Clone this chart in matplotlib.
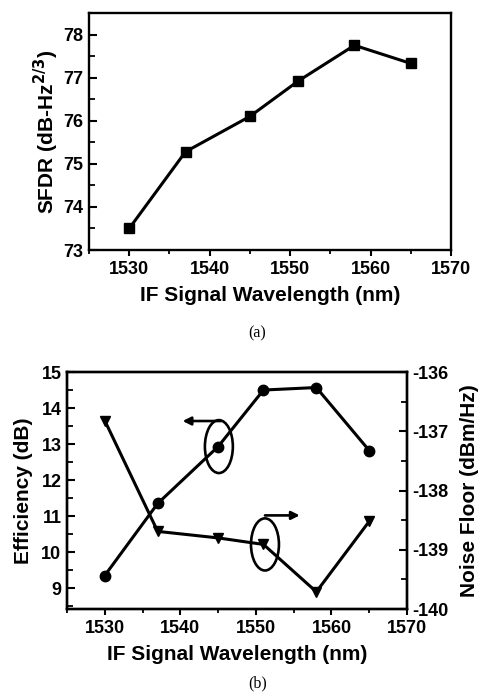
import matplotlib
matplotlib.use("Agg")
import matplotlib.pyplot as plt
from matplotlib.patches import Ellipse
from matplotlib.ticker import MultipleLocator

plt.rcParams['font.family'] = ['Liberation Sans', 'DejaVu Sans']
plt.rcParams['font.weight'] = 'bold'

# Data
wl = [1530, 1537, 1545, 1551, 1558, 1565]
sfdr = [73.5, 75.28, 76.1, 76.92, 77.75, 77.33]
efficiency = [9.35, 11.35, 12.93, 14.5, 14.57, 12.82]
noise_floor = [-136.82, -138.69, -138.8, -138.91, -139.71, -138.52]

xticks = [1530, 1540, 1550, 1560, 1570]

fig = plt.figure(figsize=(4.81, 6.98), dpi=100)

tick_fs = 13
label_fs = 15

def style_axis(ax, right=False):
    for s in ax.spines.values():
        s.set_linewidth(1.7)
    ax.tick_params(axis='x', direction='out', length=4, width=1.5, labelsize=tick_fs, pad=4)
    ax.tick_params(axis='x', which='minor', direction='out', length=3, width=1.3)
    ax.tick_params(axis='y', direction='in', length=6, width=1.5, labelsize=tick_fs, pad=4)
    ax.tick_params(axis='y', which='minor', direction='in', length=4, width=1.3)
    for lab in ax.get_xticklabels() + ax.get_yticklabels():
        lab.set_fontweight('bold')

# Panel (a)
ax1 = fig.add_axes([0.185, 0.6418, 0.7526, 0.3396])
ax1.plot(wl, sfdr, color='black', lw=2.2, marker='s', ms=7, mfc='black', mec='black')
ax1.set_xlim(1525, 1570)
ax1.set_ylim(73, 78.5)
ax1.set_xticks(xticks)
ax1.set_yticks([73, 74, 75, 76, 77, 78])
ax1.xaxis.set_minor_locator(MultipleLocator(5))
ax1.yaxis.set_minor_locator(MultipleLocator(0.5))
style_axis(ax1)
ax1.set_xlabel('IF Signal Wavelength (nm)', fontsize=label_fs, fontweight='bold', labelpad=6)
ax1.set_ylabel(r'SFDR (dB-Hz$^{\mathbf{2/3}}$)', fontsize=label_fs, fontweight='bold', labelpad=2)
fig.text(0.535, 1 - 333 / 698, '(a)', ha='center', va='center', fontsize=11.5,
         family=['Liberation Serif', 'DejaVu Serif'], fontweight='normal')

# Panel (b)
ax2 = fig.add_axes([0.1393, 0.1275, 0.7069, 0.3395])
ax3 = ax2.twinx()
ax2.plot(wl, efficiency, color='black', lw=2.2, marker='o', ms=7.5, mfc='black', mec='black')
ax3.plot(wl, noise_floor, color='black', lw=2.2, marker='v', ms=7.5, mfc='black', mec='black')
ax2.set_xlim(1525, 1570)
ax2.set_ylim(8.42, 15)
ax3.set_ylim(-140, -136)
ax2.set_xticks(xticks)
ax2.set_yticks([9, 10, 11, 12, 13, 14, 15])
ax3.set_yticks([-140, -139, -138, -137, -136])
ax2.xaxis.set_minor_locator(MultipleLocator(5))
ax2.yaxis.set_minor_locator(MultipleLocator(0.5))
ax3.yaxis.set_minor_locator(MultipleLocator(0.5))
style_axis(ax2)
style_axis(ax3)
ax3.set_yticklabels(['-140', '-139', '-138', '-137', '-136'], fontweight='bold', fontsize=tick_fs)
ax2.set_xlabel('IF Signal Wavelength (nm)', fontsize=label_fs, fontweight='bold', labelpad=6)
ax2.set_ylabel('Efficiency (dB)', fontsize=label_fs, fontweight='bold', labelpad=6)
ax3.set_ylabel('Noise Floor (dBm/Hz)', fontsize=label_fs, fontweight='bold', labelpad=8)

# Ellipse annotations
e1 = Ellipse((1545.1, 12.93), width=3.7, height=1.47, fill=False, ec='black', lw=1.9)
ax2.add_patch(e1)
ax2.annotate('', xy=(1540.3, 13.64), xytext=(1545.4, 13.64),
             arrowprops=dict(arrowstyle='-|>', lw=1.9, color='black', mutation_scale=12,
                             shrinkA=0, shrinkB=0))
e2 = Ellipse((1551.2, -138.91), width=3.7, height=0.88, fill=False, ec='black', lw=1.9)
ax3.add_patch(e2)
ax3.annotate('', xy=(1555.8, -138.42), xytext=(1551.2, -138.42),
             arrowprops=dict(arrowstyle='-|>', lw=1.9, color='black', mutation_scale=12,
                             shrinkA=0, shrinkB=0))

fig.text(0.535, 1 - 683 / 698, '(b)', ha='center', va='center', fontsize=11.5,
         family=['Liberation Serif', 'DejaVu Serif'], fontweight='normal')

fig.savefig('out.png', dpi=100)
